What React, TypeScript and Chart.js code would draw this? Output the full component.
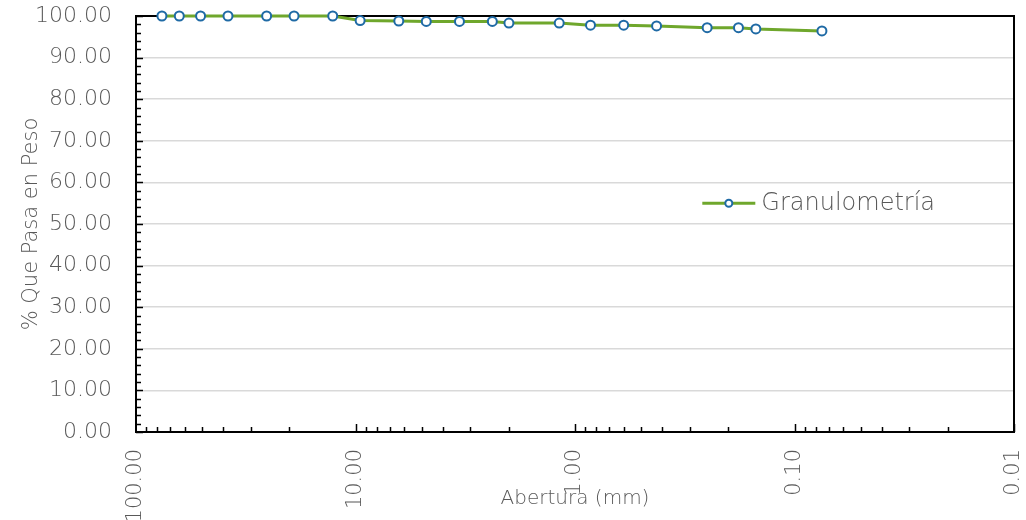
import React, { useEffect, useRef } from "react";
import { Chart, registerables } from "chart.js";

Chart.register(...registerables);

// Sieve openings (mm) and cumulative percent passing
const aberturas = [76.2, 63.5, 50.8, 38.1, 25.4, 19.05, 12.7, 9.525, 6.35, 4.76, 3.36, 2.38, 2.0, 1.18, 0.85, 0.6, 0.425, 0.25, 0.18, 0.15, 0.075];
const pasa = [100, 100, 100, 100, 100, 100, 100, 98.9, 98.8, 98.7, 98.7, 98.7, 98.3, 98.3, 97.8, 97.8, 97.6, 97.2, 97.2, 96.9, 96.4];

// Decade ticks shown on the log axis
const xDecades = [100, 10, 1, 0.1, 0.01];
const serieLabel = "Granulometría";
const xTitle = "Abertura (mm)";
const yTitle = "% Que Pasa en Peso";

const FONT = "'DejaVu Sans', sans-serif";
const WEIGHT = 200;
const TEXT = "#595959";
const GREEN = "#6fa72c";
const BLUE = "#1f6aa5";

// Frame, inside tick marks and the in-plot legend
const framePlugin = {
  id: "frameTicks",
  beforeDatasetsDraw(chart: any) {
    const { ctx, chartArea } = chart;
    const { left, right, top, bottom } = chartArea;
    const xs = chart.scales.x;
    const ys = chart.scales.y;
    ctx.save();
    ctx.strokeStyle = "#000";
    ctx.lineWidth = 2;
    ctx.beginPath();
    ctx.moveTo(left - 1, top);
    ctx.lineTo(right, top);
    ctx.lineTo(right, bottom);
    ctx.stroke();

    ctx.lineWidth = 1.5;
    ctx.beginPath();
    for (let v = 0; v <= 100; v += 2) {
      const y = Math.round(ys.getPixelForValue(v)) + 0.5;
      const len = v % 10 === 0 ? 7 : 5;
      ctx.moveTo(left, y);
      ctx.lineTo(left + len, y);
    }
    for (let d = 0.01; d < 100; d *= 10) {
      for (let m = 1; m <= 9; m++) {
        const v = m * d;
        const x = Math.round(xs.getPixelForValue(v)) + 0.5;
        const len = m === 1 ? 8 : 5;
        ctx.moveTo(x, bottom);
        ctx.lineTo(x, bottom - len);
      }
    }
    ctx.stroke();
    ctx.restore();
  },
  afterDraw(chart: any) {
    const { ctx, chartArea } = chart;
    const { left, right, top, bottom } = chartArea;
    const w = right - left;
    const h = bottom - top;
    const x0 = left + w * 0.645;
    const x1 = x0 + 53;
    const y = top + h * 0.45;
    ctx.save();
    ctx.strokeStyle = GREEN;
    ctx.lineWidth = 3;
    ctx.beginPath();
    ctx.moveTo(x0, y);
    ctx.lineTo(x1, y);
    ctx.stroke();
    ctx.beginPath();
    ctx.arc((x0 + x1) / 2, y, 3.5, 0, Math.PI * 2);
    ctx.fillStyle = "#fff";
    ctx.fill();
    ctx.strokeStyle = BLUE;
    ctx.lineWidth = 2;
    ctx.stroke();
    ctx.fillStyle = TEXT;
    ctx.font = `${WEIGHT} 24px ${FONT}`;
    ctx.textBaseline = "middle";
    ctx.textAlign = "left";
    ctx.fillText(chart.data.datasets[0].label, x1 + 6, y + 1);
    ctx.restore();
  },
};

export default function App() {
  const canvasRef = useRef<HTMLCanvasElement | null>(null);

  useEffect(() => {
    if (!canvasRef.current) return;
    const chart = new Chart(canvasRef.current, {
      type: "line",
      data: {
        datasets: [
          {
            label: serieLabel,
            data: aberturas.map((a, i) => ({ x: a, y: pasa[i] })),
            borderColor: GREEN,
            borderWidth: 3,
            pointRadius: 4.5,
            pointBorderWidth: 2,
            pointBorderColor: BLUE,
            pointBackgroundColor: "#fff",
            tension: 0,
            clip: false as any,
          },
        ],
      },
      options: {
        animation: false,
        responsive: false,
        maintainAspectRatio: false,
        layout: { padding: { top: 16, right: 12, left: 0, bottom: 0 } },
        plugins: {
          legend: { display: false },
          tooltip: { enabled: false },
        },
        scales: {
          x: {
            type: "logarithmic",
            reverse: true,
            min: 0.01,
            max: 100,
            afterBuildTicks: (s: any) => {
              s.ticks = xDecades.map((v) => ({ value: v, major: true }));
            },
            afterFit: (s: any) => {
              s.height = 88;
              s.paddingLeft = 0;
              s.paddingRight = 0;
              s.paddingTop = 0;
              s.paddingBottom = 0;
            },
            grid: { display: false, drawTicks: false },
            border: { display: true, color: "#000", width: 2 },
            ticks: {
              autoSkip: false,
              minRotation: 90,
              maxRotation: 90,
              padding: 17,
              color: TEXT,
              font: { family: FONT, size: 21, weight: WEIGHT as any },
              callback: (v: any) => Number(v).toFixed(2),
            },
            title: {
              display: true,
              text: xTitle,
              color: TEXT,
              font: { family: FONT, size: 20, weight: WEIGHT as any },
              padding: { top: 0, bottom: 9 },
            },
          },
          y: {
            min: 0,
            max: 100,
            afterFit: (s: any) => {
              s.width = 136;
              s.paddingLeft = 0;
              s.paddingRight = 0;
              s.paddingTop = 0;
              s.paddingBottom = 0;
            },
            grid: {
              drawTicks: false,
              lineWidth: 1.5,
              color: (c: any) =>
                c.tick && (c.tick.value === 0 || c.tick.value === 100) ? "rgba(0,0,0,0)" : "#d9d9d9",
            },
            border: { display: true, color: "#000", width: 2 },
            ticks: {
              stepSize: 10,
              padding: 24,
              color: TEXT,
              font: { family: FONT, size: 22, weight: WEIGHT as any },
              callback: (v: any) => Number(v).toFixed(2),
            },
            title: {
              display: true,
              text: yTitle,
              color: TEXT,
              font: { family: FONT, size: 21, weight: WEIGHT as any },
              padding: { top: 19, bottom: 0 },
            },
          },
        },
      },
      plugins: [framePlugin],
    });
    return () => chart.destroy();
  }, []);

  return (
    <div style={{ position: "fixed", left: 0, top: 0, width: 1026, height: 520, background: "#fff" }}>
      <canvas ref={canvasRef} width={1026} height={520} />
    </div>
  );
}
